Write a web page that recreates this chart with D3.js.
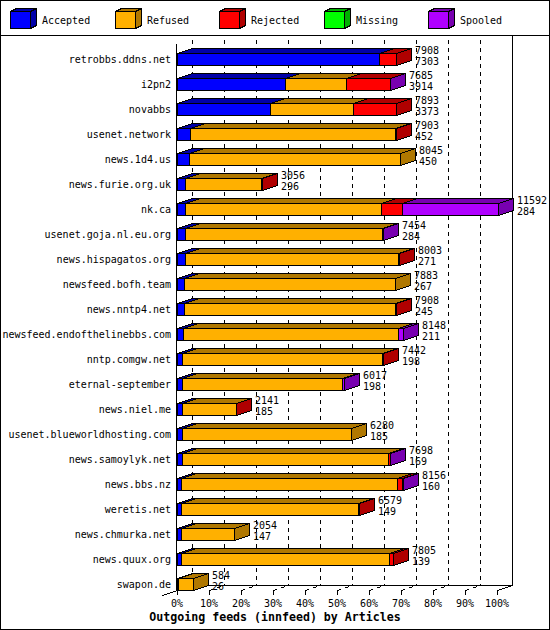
<!DOCTYPE html>
<html><head><meta charset="utf-8">
<script src="https://cdn.jsdelivr.net/npm/d3@7"></script>
<style>
html,body{margin:0;padding:0;background:#fff;}
svg{display:block;}
text{font-family:"DejaVu Sans Mono",monospace;font-size:10px;fill:#000;}
line,rect,polygon{shape-rendering:crispEdges;}
</style></head>
<body>
<script>
const hosts = ["retrobbs.ddns.net","i2pn2","novabbs","usenet.network","news.1d4.us","news.furie.org.uk","nk.ca","usenet.goja.nl.eu.org","news.hispagatos.org","newsfeed.bofh.team","news.nntp4.net","newsfeed.endofthelinebbs.com","nntp.comgw.net","eternal-september","news.niel.me","usenet.blueworldhosting.com","news.samoylyk.net","news.bbs.nz","weretis.net","news.chmurka.net","news.quux.org","swapon.de"];
const totals   = [7908,7685,7893,7903,8045,3056,11592,7454,8003,7883,7908,8148,7442,6017,2141,6280,7698,8156,6579,2054,7805,584];
const accepted = [7303,3914,3373,452,450,296,284,284,271,267,245,211,198,198,185,185,169,160,149,147,139,26];
const refused  = [0,2200,3000,7436,7595,2740,7072,7130,7702,7616,7643,7772,7219,5769,1936,6095,7464,7796,6370,1907,7516,558];
const rejected = [605,1560,1520,15,0,20,781,0,30,0,20,0,25,0,20,0,45,180,60,0,150,0];
const missing  = [0,0,0,0,0,0,0,0,0,0,0,0,0,0,0,0,0,0,0,0,0,0];
const spooled  = [0,11,0,0,0,0,3455,40,0,0,0,165,0,50,0,0,20,20,0,0,0,0];
const seriesNames = ["Accepted","Refused","Rejected","Missing","Spooled"];
const colors = ["#0000ff","#ffb000","#ff0000","#00ff00","#b000ff"];
const darks  = ["#0000a8","#b07800","#b00000","#00b000","#7800b0"];
const tickPct = [0,10,20,30,40,50,60,70,80,90,100];
const tickLabels = ["0%","10%","20%","30%","40%","50%","60%","70%","80%","90%","100%"];
const title = "Outgoing feeds (innfeed) by Articles";

const W = 550, H = 630, DX = 15, DY = 5;
const svg = d3.select("body").append("svg").attr("width", W).attr("height", H);
svg.append("rect").attr("x",0.5).attr("y",0.5).attr("width",W-1).attr("height",H-1).attr("fill","#fff").attr("stroke","#000");

// Legend
svg.append("line").attr("x1",0).attr("x2",W).attr("y1",35.5).attr("y2",35.5).attr("stroke","#000");
const lx = d3.scalePoint().domain(seriesNames).range([10, 428]);
const lg = svg.append("g");
seriesNames.forEach((n,i)=>{
  const x0 = Math.round(lx(n)) + 0.5, y0 = 11.5, w = 20, h = 17, dx = 6, dy = 3;
  lg.append("polygon").attr("points",[[x0,y0],[x0+dx,y0-dy],[x0+w+dx,y0-dy],[x0+w,y0]].join(" ")).attr("fill",darks[i]).attr("stroke","#000");
  lg.append("polygon").attr("points",[[x0+w,y0],[x0+w+dx,y0-dy],[x0+w+dx,y0+h-dy],[x0+w,y0+h]].join(" ")).attr("fill",darks[i]).attr("stroke","#000");
  lg.append("rect").attr("x",x0).attr("y",y0).attr("width",w).attr("height",h).attr("fill",colors[i]).attr("stroke","#000");
  lg.append("text").attr("x",x0+31.5).attr("y",24).text(n);
});

// Scales
const x = d3.scaleLinear().domain([0, d3.max(totals)]).range([177, 498]);
const xp = d3.scaleLinear().domain([0, 100]).range([177, 497]);
const y = d3.scaleBand().domain(hosts).range([46.5, 596.5]).padding(0);
const cy = h => y(h) + y.bandwidth()/2;

// Back wall grid
const grid = svg.append("g");
tickPct.forEach((p,i)=>{
  const gx = Math.round(xp(p)) + DX + 0.5;
  if (p === 100) {
    grid.append("line").attr("x1",gx).attr("x2",gx).attr("y1",36).attr("y2",585.5).attr("stroke","#000");
  } else {
    grid.append("line").attr("x1",gx).attr("x2",gx).attr("y1",40).attr("y2",585.5).attr("stroke","#000").attr("stroke-dasharray","4,4");
    const fx = Math.round(xp(p)) + 0.5;
    grid.append("line").attr("x1",fx).attr("x2",gx).attr("y1",590.5).attr("y2",585.5).attr("stroke","#000").attr("stroke-dasharray","4,4");
  }
});
// Floor
const f0 = Math.round(xp(0)) + 0.5, f1 = Math.round(xp(100)) + 0.5;
grid.append("line").attr("x1",f0+DX).attr("x2",f1+DX).attr("y1",585.5).attr("y2",585.5).attr("stroke","#000");
grid.append("line").attr("x1",f0-DX).attr("x2",f0+DX).attr("y1",595.5).attr("y2",585.5).attr("stroke","#000");
grid.append("line").attr("x1",f1).attr("x2",f1+DX).attr("y1",590.5).attr("y2",585.5).attr("stroke","#000");
grid.append("line").attr("x1",f0-1).attr("x2",f0-1).attr("y1",44).attr("y2",590.5).attr("stroke","#000");
tickPct.forEach(p=>{
  const fx = Math.round(xp(p)) + 0.5;
  grid.append("line").attr("x1",fx).attr("x2",fx).attr("y1",590).attr("y2",595).attr("stroke","#000");
});

// Axis labels
const ax = svg.append("g");
tickPct.forEach((p,i)=>{
  ax.append("text").attr("x",xp(p)).attr("y",607).attr("text-anchor","middle").text(tickLabels[i]);
});

// Host labels
svg.append("g").selectAll("text").data(hosts).join("text")
  .attr("x",171).attr("y",d=>cy(d)+4).attr("text-anchor","end").text(d=>d);

// Bars
const bars = svg.append("g");
hosts.forEach((h,i)=>{
  const vals = [accepted[i], refused[i], rejected[i], missing[i], spooled[i]];
  const c = Math.round(cy(h));
  const top = c - 6 + 0.5, bot = c + 6 + 0.5;
  let cum = 0;
  vals.forEach((v,k)=>{
    if (v <= 0) return;
    const xa = Math.round(x(cum)) + 0.5;
    cum += v;
    const xb = Math.round(x(cum)) + 0.5;
    bars.append("polygon").attr("points",[[xa,top],[xa+DX,top-DY],[xb+DX,top-DY],[xb,top]].join(" ")).attr("fill",darks[k]).attr("stroke","#000");
    bars.append("polygon").attr("points",[[xb,top],[xb+DX,top-DY],[xb+DX,bot-DY],[xb,bot]].join(" ")).attr("fill",darks[k]).attr("stroke","#000");
    bars.append("rect").attr("x",xa).attr("y",top).attr("width",Math.max(0,xb-xa)).attr("height",bot-top).attr("fill",colors[k]).attr("stroke","#000");
  });
  const ex = Math.round(x(totals[i])) + DX + 4;
  bars.append("text").attr("x",ex).attr("y",c-5).text(totals[i]);
  bars.append("text").attr("x",ex).attr("y",c+6).text(accepted[i]);
});

// Title
svg.append("text").attr("x",275).attr("y",621).attr("text-anchor","middle")
  .style("font-weight","bold").style("font-size","11.6px").text(title);
</script>
</body></html>
